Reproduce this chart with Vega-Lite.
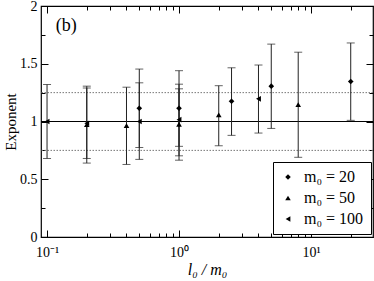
{
  "$schema": "https://vega.github.io/schema/vega-lite/v6.json",
  "width": 332,
  "height": 231,
  "autosize": "none",
  "padding": {"left": 41, "top": 6, "right": 1, "bottom": 44},
  "config": {
    "view": {"stroke": "#000", "strokeWidth": 1.2},
    "font": "Liberation Serif",
    "axis": {"grid": false, "domain": false, "labelFont": "Liberation Serif", "titleFont": "Liberation Serif", "labelColor": "#000", "titleColor": "#000", "tickColor": "#000", "labelFontSize": 14, "titleFontWeight": "normal", "titleFontSize": 16}
  },
  "datasets": {
    "pts": [
      {"x": 0.5, "y": 1.115, "lo": 0.775, "hi": 1.454, "m0": "m₀ = 20"},
      {"x": 1, "y": 1.115, "lo": 0.785, "hi": 1.44, "m0": "m₀ = 20"},
      {"x": 2.5, "y": 1.175, "lo": 0.88, "hi": 1.465, "m0": "m₀ = 20"},
      {"x": 5, "y": 1.306, "lo": 0.94, "hi": 1.67, "m0": "m₀ = 20"},
      {"x": 20, "y": 1.346, "lo": 1.01, "hi": 1.68, "m0": "m₀ = 20"},
      {"x": 0.2, "y": 0.973, "lo": 0.64, "hi": 1.306, "m0": "m₀ = 50"},
      {"x": 0.4, "y": 0.964, "lo": 0.628, "hi": 1.297, "m0": "m₀ = 50"},
      {"x": 1, "y": 0.976, "lo": 0.665, "hi": 1.283, "m0": "m₀ = 50"},
      {"x": 2, "y": 1.057, "lo": 0.79, "hi": 1.31, "m0": "m₀ = 50"},
      {"x": 8, "y": 1.146, "lo": 0.69, "hi": 1.6, "m0": "m₀ = 50"},
      {"x": 0.1, "y": 1.0, "lo": 0.68, "hi": 1.32, "m0": "m₀ = 100"},
      {"x": 0.2, "y": 0.985, "lo": 0.68, "hi": 1.29, "m0": "m₀ = 100"},
      {"x": 0.5, "y": 1.0, "lo": 0.672, "hi": 1.335, "m0": "m₀ = 100"},
      {"x": 1, "y": 1.016, "lo": 0.703, "hi": 1.323, "m0": "m₀ = 100"},
      {"x": 4, "y": 1.196, "lo": 0.9, "hi": 1.489, "m0": "m₀ = 100"}
    ]
  },
  "layer": [
    {
      "data": {"values": [{"y": 0.75}, {"y": 1.25}]},
      "mark": {"type": "rule", "color": "#777", "strokeDash": [1.5, 1.5], "strokeWidth": 1},
      "encoding": {"y": {"field": "y", "type": "quantitative", "axis": null}}
    },
    {
      "data": {"values": [{"y": 1}]},
      "mark": {"type": "rule", "color": "#000", "strokeWidth": 1},
      "encoding": {"y": {"field": "y", "type": "quantitative", "axis": null}}
    },
    {
      "data": {"name": "pts"},
      "mark": {"type": "rule", "color": "#222", "strokeWidth": 1},
      "encoding": {
        "x": {"field": "x", "type": "quantitative",
          "scale": {"type": "log", "domain": [0.09, 29.5], "nice": false},
          "axis": {"orient": "top", "title": null, "labels": false,
            "values": [0.1,0.2,0.3,0.4,0.5,0.6,0.7,0.8,0.9,1,2,3,4,5,6,7,8,9,10,20],
            "tickSize": -7,
            "tickDash": {"condition": {"test": "abs(log(datum.value)/LN10 - round(log(datum.value)/LN10)) < 0.001", "value": [20, 0]}, "value": [4, 20]}}},
        "y": {"field": "lo", "type": "quantitative",
          "scale": {"domain": [0, 2], "nice": false},
          "axis": {"orient": "right", "title": null, "labels": false,
            "values": [0,0.25,0.5,0.75,1,1.25,1.5,1.75,2],
            "tickSize": -7,
            "tickDash": {"condition": {"test": "(datum.value*2) % 1 == 0", "value": [20, 0]}, "value": [4, 20]}}},
        "y2": {"field": "hi"}
      }
    },
    {
      "data": {"name": "pts"},
      "mark": {"type": "tick", "orient": "horizontal", "color": "#222", "size": 8, "thickness": 1},
      "encoding": {
        "x": {"field": "x", "type": "quantitative", "axis": null},
        "y": {"field": "lo", "type": "quantitative", "axis": null}
      }
    },
    {
      "data": {"name": "pts"},
      "mark": {"type": "tick", "orient": "horizontal", "color": "#222", "size": 8, "thickness": 1},
      "encoding": {
        "x": {"field": "x", "type": "quantitative", "axis": null},
        "y": {"field": "hi", "type": "quantitative", "axis": null}
      }
    },
    {
      "data": {"name": "pts"},
      "mark": {"type": "point", "filled": true, "color": "#000", "size": 32, "opacity": 1},
      "encoding": {
        "x": {"field": "x", "type": "quantitative",
          "axis": {"orient": "bottom", "title": "l₀ / m₀", "titleFontStyle": "italic", "titlePadding": 2,
            "values": [0.1,0.2,0.3,0.4,0.5,0.6,0.7,0.8,0.9,1,2,3,4,5,6,7,8,9,10,20],
            "labelExpr": "abs(log(datum.value)/LN10 - round(log(datum.value)/LN10)) < 0.001 ? (datum.value < 0.5 ? '10⁻¹' : (datum.value < 5 ? '10⁰' : '10¹')) : ''",
            "labelFlush": false, "labelOverlap": false,
            "tickSize": -7, "labelPadding": 15,
            "tickDash": {"condition": {"test": "abs(log(datum.value)/LN10 - round(log(datum.value)/LN10)) < 0.001", "value": [20, 0]}, "value": [4, 20]}}},
        "y": {"field": "y", "type": "quantitative",
          "axis": {"orient": "left", "title": "Exponent", "titlePadding": 1, "titleFontSize": 15,
            "values": [0,0.25,0.5,0.75,1,1.25,1.5,1.75,2],
            "labelExpr": "(datum.value*2) % 1 == 0 ? toString(datum.value) : ''",
            "labelFlush": false, "labelOverlap": false,
            "tickSize": -7, "labelPadding": 11,
            "tickDash": {"condition": {"test": "(datum.value*2) % 1 == 0", "value": [20, 0]}, "value": [4, 20]}}},
        "shape": {"field": "m0", "type": "nominal",
          "scale": {"domain": ["m₀ = 20", "m₀ = 50", "m₀ = 100"], "range": ["diamond", "triangle-up", "triangle-left"]},
          "legend": {"title": null, "orient": "none", "legendX": 232, "legendY": 156,
            "strokeColor": "#000", "fillColor": "#fff", "padding": 7, "rowPadding": 5,
            "labelFont": "Liberation Serif", "labelFontSize": 16, "labelColor": "#000",
            "symbolSize": 30, "symbolFillColor": "#000", "symbolStrokeColor": "#000", "labelOffset": 8}}
      }
    },
    {
      "data": {"values": [{"x": 0.14, "y": 1.83, "t": "(b)"}]},
      "mark": {"type": "text", "font": "Liberation Serif", "fontSize": 18, "color": "#000"},
      "encoding": {
        "x": {"field": "x", "type": "quantitative", "axis": null},
        "y": {"field": "y", "type": "quantitative", "axis": null},
        "text": {"field": "t"}
      }
    }
  ]
}
